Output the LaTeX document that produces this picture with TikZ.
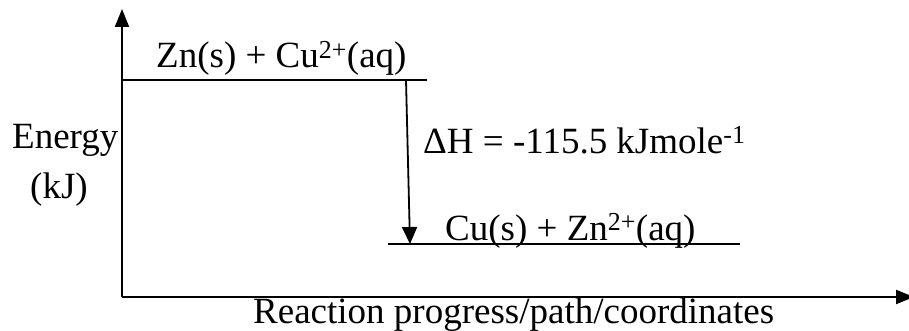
\documentclass[tikz,border=0pt]{standalone}
\usepackage{fontspec}
\setmainfont{Liberation Serif}
\usetikzlibrary{arrows.meta}
\begin{document}
\begin{tikzpicture}[x=1pt,y=1pt,
  lbl/.style={inner sep=0pt,anchor=base west,font=\fontsize{37}{40}\selectfont},
  axis/.style={line width=2pt,-{Triangle[width=14pt,length=18pt]}},
  level/.style={line width=1.6pt},
  dharrow/.style={line width=1.8pt,-{Triangle[width=15pt,length=17pt]}}]
\useasboundingbox (0,0) rectangle (909,330);
% axes
\coordinate (O) at (122,33);
\coordinate (ytop) at (122,321);
\coordinate (xend) at (914,33);
\draw[axis] (O) -- (ytop);
\draw[axis] (O) -- (xend);
% levels
\coordinate (r1) at (122,250);
\coordinate (r2) at (427,250);
\coordinate (p1) at (388,86);
\coordinate (p2) at (740,86);
\draw[level] (r1) -- (r2);
\draw[level] (p1) -- (p2);
% enthalpy arrow
\coordinate (a1) at (406,250);
\coordinate (a2) at (410,86);
\draw[dharrow] (a1) -- (a2);
% labels
\node[lbl] (react) at (156,262) {Zn(s) + Cu\textsuperscript{2+}(aq)};
\node[lbl] (prod) at (445,90) {Cu(s) + Zn\textsuperscript{2+}(aq)};
\node[lbl] (dh) at (423,177) {ΔH = -115.5 kJmole\textsuperscript{-1}};
\node[lbl] (en) at (12,182) {Energy};
\node[lbl] (kj) at (30,132) {(kJ)};
\node[lbl] (xl) at (253,7) {Reaction progress/path/coordinates};
\end{tikzpicture}
\end{document}
